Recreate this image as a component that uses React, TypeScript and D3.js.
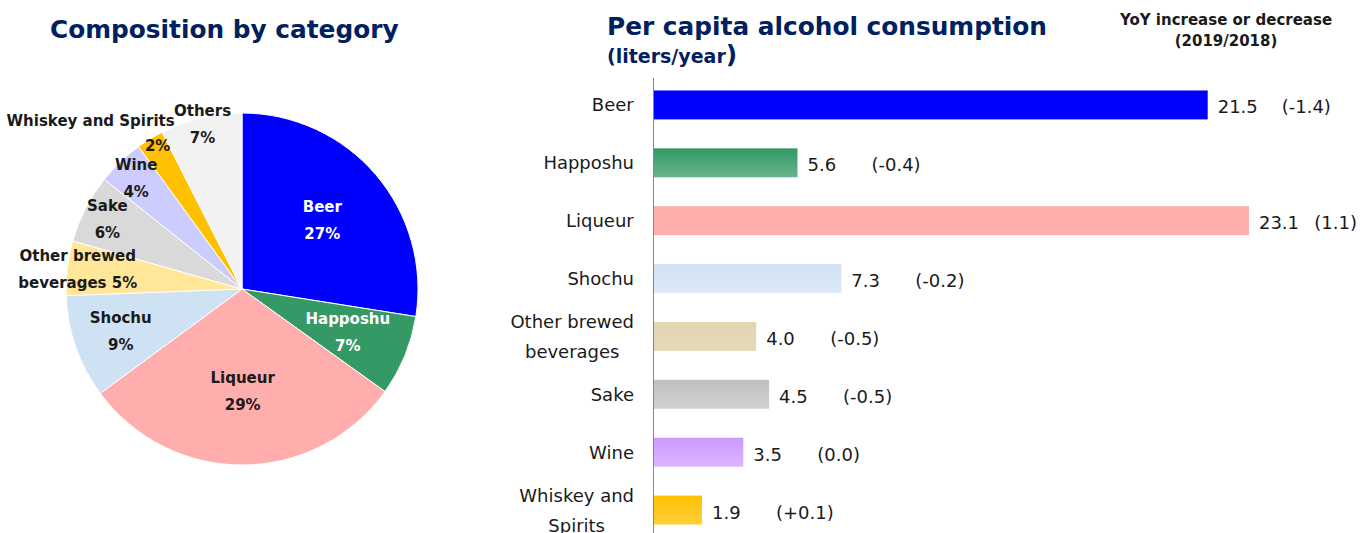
import React, { useEffect, useRef } from "react";
import * as d3 from "d3";

// ---------- data ----------
const pieCategories = ["Beer", "Happoshu", "Liqueur", "Shochu", "Other brewed\nbeverages", "Sake", "Wine", "Whiskey and Spirits", "Others"];
const pieShares = [27.5, 7.4, 30.0, 9.5, 5.0, 6.3, 4.3, 2.5, 7.5];
const pieShareLabels = ["27%", "7%", "29%", "9%", "5%", "6%", "4%", "2%", "7%"];
const pieColors = ["#0000FF", "#359966", "#FFADAD", "#CFE2F3", "#FFE699", "#D9D9D9", "#CCCCFF", "#FFC000", "#F2F2F2"];
const pieTextColors = ["#FFFFFF", "#FFFFFF", "#1a1a1a", "#1a1a1a", "#1a1a1a", "#1a1a1a", "#1a1a1a", "#1a1a1a", "#1a1a1a"];

const barCategories = ["Beer", "Happoshu", "Liqueur", "Shochu", "Other brewed\nbeverages", "Sake", "Wine", "Whiskey and\nSpirits"];
const barValues = [21.5, 5.6, 23.1, 7.3, 4.0, 4.5, 3.5, 1.9];
const barYoY = ["(-1.4)", "(-0.4)", "(1.1)", "(-0.2)", "(-0.5)", "(-0.5)", "(0.0)", "(+0.1)"];
const barTopColors = ["#0000FF", "#339966", "#FFADAD", "#CFE2F3", "#E2D6B3", "#BFBFBF", "#CC99FF", "#FFC000"];
const barBottomColors = ["#0000FF", "#68B58C", "#FFADAD", "#DDEAF7", "#E4D8B8", "#D2D2D2", "#DDB5FF", "#FFCE3A"];

// ---------- layout ----------
const W = 1361;
const H = 533;
const NAVY = "#002060";
const FONT = "'DejaVu Sans', Verdana, sans-serif";
const labelRadiusFactor = [0.6, 0.65, 0.58, 0.73, 0.94, 0.86, 0.87, 0.95, 0.96];

export default function App() {
  const ref = useRef<SVGSVGElement | null>(null);

  useEffect(() => {
    const svg = d3.select(ref.current);
    svg.selectAll("*").remove();

    // ----- pie -----
    const cx = 242, cy = 289, r = 176;
    const pieG = svg.append("g").attr("transform", `translate(${cx},${cy})`);
    const pie = d3.pie<number>().sort(null).value((d) => d);
    const arcs = pie(pieShares);
    const arc = d3.arc<d3.PieArcDatum<number>>().innerRadius(0).outerRadius(r);
    pieG.selectAll("path.slice")
      .data(arcs)
      .join("path")
      .attr("class", "slice")
      .attr("d", arc)
      .attr("fill", (_, i) => pieColors[i])
      .attr("stroke", "#ffffff")
      .attr("stroke-width", 1);

    arcs.forEach((a, i) => {
      const lr = r * labelRadiusFactor[i];
      const la = d3.arc<d3.PieArcDatum<number>>().innerRadius(lr).outerRadius(lr);
      const [x, y] = la.centroid(a);
      const nameLines = pieCategories[i].split("\n");
      let lines: string[];
      if (nameLines.length > 1) {
        lines = [...nameLines.slice(0, -1), nameLines[nameLines.length - 1] + "  " + pieShareLabels[i]];
      } else {
        lines = [nameLines[0], pieShareLabels[i]];
      }
      const g = pieG.append("g").attr("font-family", FONT).attr("font-weight", "bold").attr("font-size", 15).attr("fill", pieTextColors[i]);
      if (pieCategories[i].length > 14 && nameLines.length === 1) {
        // long name placed outside, above-left of its value
        g.append("text").attr("x", x + 20).attr("y", y - 25).attr("text-anchor", "end").attr("dominant-baseline", "central").text(lines[0]);
        g.append("text").attr("x", x + 3).attr("y", y).attr("text-anchor", "middle").attr("dominant-baseline", "central").text(lines[1]);
      } else {
        const lh = 27;
        lines.forEach((t, k) => {
          g.append("text")
            .attr("x", x)
            .attr("y", y + (k - (lines.length - 1) / 2) * lh)
            .attr("text-anchor", "middle")
            .attr("dominant-baseline", "central")
            .text(t);
        });
      }
    });

    svg.append("text")
      .attr("x", 50).attr("y", 38)
      .attr("font-family", FONT).attr("font-weight", "bold").attr("font-size", 24.8)
      .attr("fill", NAVY)
      .text("Composition by category");

    // ----- bars -----
    const x = d3.scaleLinear().domain([0, 25]).range([653, 1298]);
    const y = d3.scaleBand<string>().domain(barCategories).range([76, 539]).paddingInner(0.5).paddingOuter(0.25);

    const defs = svg.append("defs");
    barCategories.forEach((_, i) => {
      const g = defs.append("linearGradient").attr("id", `bg${i}`).attr("x1", 0).attr("y1", 0).attr("x2", 0).attr("y2", 1);
      g.append("stop").attr("offset", "0%").attr("stop-color", barTopColors[i]);
      g.append("stop").attr("offset", "100%").attr("stop-color", barBottomColors[i]);
    });

    const barG = svg.append("g");
    barG.selectAll("rect")
      .data(barValues)
      .join("rect")
      .attr("x", x(0))
      .attr("y", (_, i) => y(barCategories[i])!)
      .attr("width", (d) => x(d) - x(0))
      .attr("height", y.bandwidth())
      .attr("fill", (_, i) => `url(#bg${i})`);

    // axis line
    svg.append("line")
      .attr("x1", x(0) + 0.5).attr("x2", x(0) + 0.5)
      .attr("y1", 78).attr("y2", H)
      .attr("stroke", "#868686").attr("stroke-width", 1);

    // category labels
    barCategories.forEach((c, i) => {
      const cyB = y(c)! + y.bandwidth() / 2;
      const lines = c.split("\n");
      const t = svg.append("text")
        .attr("font-family", FONT).attr("font-size", 18).attr("fill", "#1a1a1a")
        .attr("text-anchor", "middle");
      lines.forEach((ln, k) => {
        t.append("tspan").attr("x", 0).attr("y", cyB + (k - (lines.length - 1) / 2) * 30).attr("dominant-baseline", "central").text(ln);
      });
      const node = t.node() as SVGTextElement;
      const w = node.getBBox().width;
      t.attr("transform", `translate(${634 - w / 2},0)`);
    });

    // value labels + yoy
    barValues.forEach((v, i) => {
      const cyB = y(barCategories[i])! + y.bandwidth() / 2;
      svg.append("text")
        .attr("x", x(v) + 10).attr("y", cyB + 2)
        .attr("dominant-baseline", "central")
        .attr("font-family", FONT).attr("font-size", 18).attr("fill", "#1a1a1a")
        .text(v.toFixed(1));
      const yt = svg.append("text")
        .attr("y", cyB + 2)
        .attr("dominant-baseline", "central")
        .attr("font-family", FONT).attr("font-size", 18).attr("fill", "#1a1a1a")
        .text(barYoY[i]);
      const tw = (yt.node() as SVGTextElement).getComputedTextLength();
      yt.attr("x", Math.min(x(v) + 74, W - 4 - tw));
    });

    svg.append("text")
      .attr("x", 607).attr("y", 35)
      .attr("font-family", FONT).attr("font-weight", "bold").attr("font-size", 24.8)
      .attr("fill", NAVY)
      .text("Per capita alcohol consumption");
    const sub = svg.append("text")
      .attr("x", 607).attr("y", 63)
      .attr("font-family", FONT).attr("font-weight", "bold").attr("font-size", 19)
      .attr("fill", NAVY);
    sub.append("tspan").text("(liters/year");
    sub.append("tspan").attr("font-size", 25).text(")");

    const yoyHead = svg.append("text")
      .attr("font-family", FONT).attr("font-weight", "bold").attr("font-size", 15)
      .attr("fill", "#1a1a1a").attr("text-anchor", "middle");
    yoyHead.append("tspan").attr("x", 1226).attr("y", 25).text("YoY increase or decrease");
    yoyHead.append("tspan").attr("x", 1226).attr("y", 46).text("(2019/2018)");
  }, []);

  return (
    <svg
      ref={ref}
      width={W}
      height={H}
      style={{ position: "absolute", left: 0, top: 0, background: "#ffffff" }}
    />
  );
}
